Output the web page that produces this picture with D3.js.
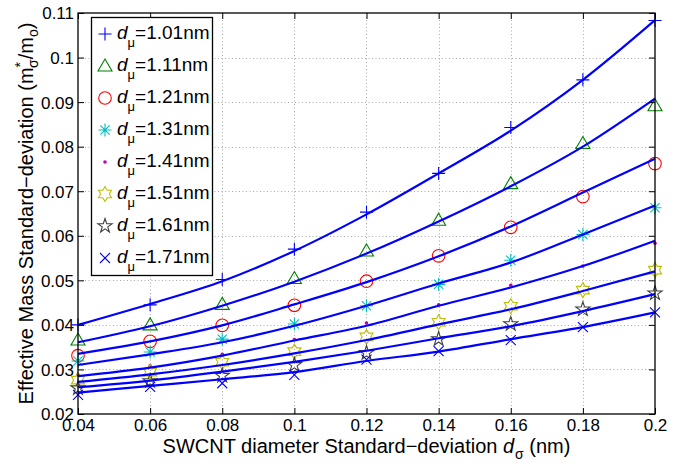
<!DOCTYPE html>
<html>
<head>
<meta charset="utf-8">
<script src="https://cdn.jsdelivr.net/npm/d3@7"></script>
<style>
  html, body { margin: 0; padding: 0; background: #fff; }
  svg { display: block; }
  text { font-family: "Liberation Sans", Arial, sans-serif; fill: #000; }
</style>
</head>
<body>
<svg id="chart" width="686" height="464"></svg>
<script>
// ---------- data ----------
const xValues = [0.04, 0.06, 0.08, 0.10, 0.12, 0.14, 0.16, 0.18, 0.20];
const xTickValues = [0.04, 0.06, 0.08, 0.10, 0.12, 0.14, 0.16, 0.18, 0.20];
const xTickLabels = ["0.04", "0.06", "0.08", "0.1", "0.12", "0.14", "0.16", "0.18", "0.2"];
const yTickValues = [0.02, 0.03, 0.04, 0.05, 0.06, 0.07, 0.08, 0.09, 0.10, 0.11];
const yTickLabels = ["0.02", "0.03", "0.04", "0.05", "0.06", "0.07", "0.08", "0.09", "0.1", "0.11"];
const diameterLabels = ["1.01", "1.11", "1.21", "1.31", "1.41", "1.51", "1.61", "1.71"];

// simulated points (markers)
const sim101 = [0.0400, 0.0445, 0.0502, 0.0570, 0.0653, 0.0740, 0.0843, 0.0950, 0.1083];
const sim111 = [0.0366, 0.0400, 0.0446, 0.0504, 0.0566, 0.0635, 0.0717, 0.0807, 0.0892];
const sim121 = [0.0331, 0.0363, 0.0399, 0.0444, 0.0498, 0.0555, 0.0619, 0.0688, 0.0762];
const sim131 = [0.0319, 0.0339, 0.0368, 0.0402, 0.0443, 0.0491, 0.0545, 0.0603, 0.0663];
const sim141 = [0.0288, 0.0308, 0.0334, 0.0367, 0.0404, 0.0445, 0.0489, 0.0532, 0.0583];
const sim151 = [0.0276, 0.0294, 0.0316, 0.0340, 0.0373, 0.0406, 0.0442, 0.0478, 0.0523];
const sim161 = [0.0258, 0.0274, 0.0286, 0.0310, 0.0337, 0.0368, 0.0402, 0.0435, 0.0471];
const sim171 = [0.0243, 0.0261, 0.0269, 0.0288, 0.0322, 0.0341, 0.0366, 0.0395, 0.0428];

// model curves (lines)
const fit101 = [0.0400, 0.0447, 0.0498, 0.0566, 0.0648, 0.0740, 0.0836, 0.0950, 0.1084];
const fit111 = [0.0361, 0.0397, 0.0443, 0.0497, 0.0560, 0.0632, 0.0711, 0.0800, 0.0908];
const fit121 = [0.0335, 0.0363, 0.0399, 0.0446, 0.0496, 0.0554, 0.0621, 0.0697, 0.0773];
const fit131 = [0.0310, 0.0334, 0.0361, 0.0398, 0.0443, 0.0493, 0.0540, 0.0603, 0.0668];
const fit141 = [0.0285, 0.0304, 0.0331, 0.0365, 0.0398, 0.0443, 0.0484, 0.0532, 0.0589];
const fit151 = [0.0272, 0.0289, 0.0310, 0.0336, 0.0366, 0.0401, 0.0435, 0.0476, 0.0520];
const fit161 = [0.0260, 0.0275, 0.0295, 0.0317, 0.0342, 0.0370, 0.0397, 0.0431, 0.0469];
const fit171 = [0.0248, 0.0263, 0.0278, 0.0294, 0.0319, 0.0340, 0.0368, 0.0395, 0.0428];

const simSeries = [sim101, sim111, sim121, sim131, sim141, sim151, sim161, sim171];
const fitSeries = [fit101, fit111, fit121, fit131, fit141, fit151, fit161, fit171];
const markerColors = ["#0000ff", "#008000", "#ff0000", "#00bfbf", "#bf00bf", "#bfbf00", "#404040", "#0000ff"];
const markerKinds = ["plus", "triangle", "circle", "asterisk", "dot", "hexagram", "pentagram", "cross"];

// ---------- layout ----------
const L = 78, R = 655, T = 13, B = 414;
const svg = d3.select("#chart");
const x = d3.scaleLinear().domain([0.04, 0.2]).range([L, R]);
const y = d3.scaleLinear().domain([0.02, 0.11]).range([B, T]);

// grid
const grid = svg.append("g").attr("stroke", "#a8a8a8").attr("stroke-width", 1).attr("stroke-dasharray", "1,2.5");
grid.selectAll(".gx").data(xTickValues.slice(1, -1)).join("line")
  .attr("x1", d => Math.round(x(d)) + 0.5).attr("x2", d => Math.round(x(d)) + 0.5)
  .attr("y1", T).attr("y2", B);
grid.selectAll(".gy").data(yTickValues.slice(1, -1)).join("line")
  .attr("y1", d => Math.round(y(d)) + 0.5).attr("y2", d => Math.round(y(d)) + 0.5)
  .attr("x1", L).attr("x2", R);

// marker paths
function markerPath(kind) {
  const p = d3.path();
  if (kind === "plus") { p.moveTo(-6.5, 0); p.lineTo(6.5, 0); p.moveTo(0, -6.5); p.lineTo(0, 6.5); }
  else if (kind === "cross") { p.moveTo(-5, -5); p.lineTo(5, 5); p.moveTo(-5, 5); p.lineTo(5, -5); }
  else if (kind === "asterisk") {
    p.moveTo(-6.5, 0); p.lineTo(6.5, 0); p.moveTo(0, -6.5); p.lineTo(0, 6.5);
    p.moveTo(-4.6, -4.6); p.lineTo(4.6, 4.6); p.moveTo(-4.6, 4.6); p.lineTo(4.6, -4.6);
  }
  else if (kind === "triangle") { p.moveTo(0, -7); p.lineTo(7, 5); p.lineTo(-7, 5); p.closePath(); }
  else if (kind === "circle") { p.moveTo(6.3, 0); p.arc(0, 0, 6.3, 0, 2 * Math.PI); }
  else if (kind === "dot") { p.moveTo(1.8, 0); p.arc(0, 0, 1.8, 0, 2 * Math.PI); }
  else if (kind === "hexagram" || kind === "pentagram") {
    const n = kind === "hexagram" ? 6 : 5;
    const ro = 7.5, ri = kind === "hexagram" ? ro / Math.sqrt(3) : ro * 0.382;
    for (let i = 0; i < 2 * n; i++) {
      const a = -Math.PI / 2 + i * Math.PI / n;
      const r = i % 2 === 0 ? ro : ri;
      if (i === 0) p.moveTo(r * Math.cos(a), r * Math.sin(a)); else p.lineTo(r * Math.cos(a), r * Math.sin(a));
    }
    p.closePath();
  }
  return p.toString();
}
function drawMarker(g, kind, color) {
  g.append("path").attr("d", markerPath(kind))
    .attr("fill", kind === "dot" ? color : "none")
    .attr("stroke", kind === "dot" ? "none" : color)
    .attr("stroke-width", 1.1);
}

// markers
simSeries.forEach((vals, si) => {
  const g = svg.append("g");
  vals.forEach((v, i) => {
    const mg = g.append("g").attr("transform", `translate(${x(xValues[i])},${y(v)})`);
    drawMarker(mg, markerKinds[si], markerColors[si]);
  });
});

// fit lines
const lineGen = d3.line().x((d, i) => x(xValues[i])).y(d => y(d)).curve(d3.curveMonotoneX);
svg.append("g").selectAll("path").data(fitSeries).join("path")
  .attr("d", lineGen).attr("fill", "none").attr("stroke", "#0000ff").attr("stroke-width", 2.2);

// axes
const fontTick = 17;
const xAxis = d3.axisBottom(x).tickValues(xTickValues).tickFormat((d, i) => xTickLabels[i])
  .tickSizeInner(-6).tickSizeOuter(0).tickPadding(5);
const yAxis = d3.axisLeft(y).tickValues(yTickValues).tickFormat((d, i) => yTickLabels[i])
  .tickSizeInner(-6).tickSizeOuter(0).tickPadding(4);
const gx = svg.append("g").attr("transform", `translate(0,${B})`).call(xAxis);
const gy = svg.append("g").attr("transform", `translate(${L},0)`).call(yAxis);
const gxt = svg.append("g").attr("transform", `translate(0,${T})`).call(d3.axisTop(x).tickValues(xTickValues).tickFormat("").tickSizeInner(-6).tickSizeOuter(0));
const gyr = svg.append("g").attr("transform", `translate(${R},0)`).call(d3.axisRight(y).tickValues(yTickValues).tickFormat("").tickSizeInner(-6).tickSizeOuter(0));
[gx, gy, gxt, gyr].forEach(g => {
  g.select(".domain").remove();
  g.selectAll(".tick line").attr("stroke", "#000");
  g.selectAll("text").attr("font-size", fontTick).attr("font-family", "Liberation Sans, Arial, sans-serif").attr("fill", "#000");
});
gy.selectAll(".tick text").attr("dy", "0.35em");

// frame
svg.append("rect").attr("x", L).attr("y", T).attr("width", R - L).attr("height", B - T)
  .attr("fill", "none").attr("stroke", "#000").attr("stroke-width", 1.3);

// axis labels
const xl = svg.append("text").attr("x", (L + R) / 2).attr("y", 453).attr("text-anchor", "middle").attr("font-size", 20);
xl.append("tspan").text("SWCNT diameter Standard\u2212deviation ");
xl.append("tspan").attr("font-style", "italic").text("d");
xl.append("tspan").attr("font-size", 14).attr("dx", 1).attr("dy", 6).text("\u03c3");
xl.append("tspan").attr("dy", -6).text(" (nm)");

const yl = svg.append("text").attr("transform", `translate(33,${(T + B) / 2}) rotate(-90)`)
  .attr("text-anchor", "middle").attr("font-size", 20);
yl.append("tspan").text("Effective Mass Standard\u2212deviation (m");
yl.append("tspan").attr("font-size", 14).attr("dy", -8).text("*");
yl.append("tspan").attr("font-size", 14).attr("dx", -6).attr("dy", 13).text("\u03c3");
yl.append("tspan").attr("dy", -5).text("/m");
yl.append("tspan").attr("font-size", 14).attr("dy", 5).text("o");
yl.append("tspan").attr("dy", -5).text(")");

// legend
const lg = svg.append("g");
lg.append("rect").attr("x", 91.5).attr("y", 17.5).attr("width", 121).attr("height", 258)
  .attr("fill", "#fff").attr("stroke", "#000").attr("stroke-width", 1.3);
diameterLabels.forEach((lab, i) => {
  const cy = 34 + i * 32;
  const mg = lg.append("g").attr("transform", `translate(105,${cy})`);
  drawMarker(mg, markerKinds[i], markerColors[i]);
  const t = lg.append("text").attr("x", 117).attr("y", cy + 5).attr("font-size", 19);
  t.append("tspan").attr("font-style", "italic").text("d");
  t.append("tspan").attr("font-size", 13).attr("dx", 0).attr("dy", 8).text("\u03bc");
  t.append("tspan").attr("dx", 0).attr("dy", -8).text("=" + lab + "nm");
});
</script>
</body>
</html>
